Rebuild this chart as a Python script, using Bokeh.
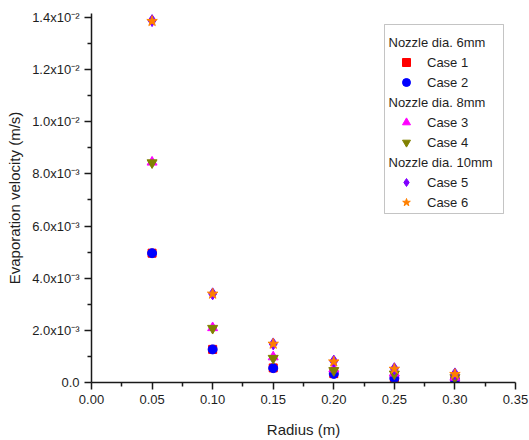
from bokeh.plotting import figure
from bokeh.models import (FixedTicker, PrintfTickFormatter, CustomJSTickFormatter,
                          Legend, LegendItem, BoxAnnotation, Label, Range1d)
from bokeh.embed import file_html
from bokeh.resources import INLINE

# ---- data ----
radius = [0.05, 0.10, 0.15, 0.20, 0.25, 0.30]
case1 = [4.96e-3, 1.27e-3, 0.56e-3, 0.34e-3, 0.17e-3, 0.12e-3]
case2 = [4.96e-3, 1.27e-3, 0.55e-3, 0.33e-3, 0.16e-3, 0.11e-3]
case3 = [8.45e-3, 2.10e-3, 0.98e-3, 0.52e-3, 0.36e-3, 0.20e-3]
case4 = [8.43e-3, 2.08e-3, 0.93e-3, 0.46e-3, 0.33e-3, 0.19e-3]
case5 = [13.88e-3, 3.40e-3, 1.48e-3, 0.82e-3, 0.53e-3, 0.33e-3]
case6 = [13.86e-3, 3.40e-3, 1.48e-3, 0.80e-3, 0.52e-3, 0.32e-3]

series_names = ["Case 1", "Case 2", "Case 3", "Case 4", "Case 5", "Case 6"]
group_names = ["Nozzle dia. 6mm", "Nozzle dia. 8mm", "Nozzle dia. 10mm"]

x_ticks = [0.0, 0.05, 0.10, 0.15, 0.20, 0.25, 0.30, 0.35]
x_minor = [0.025, 0.075, 0.125, 0.175, 0.225, 0.275, 0.325]
y_ticks = [0.0, 0.002, 0.004, 0.006, 0.008, 0.010, 0.012, 0.014]
y_minor = [0.001, 0.003, 0.005, 0.007, 0.009, 0.011, 0.013]

FONT = "Liberation Sans"
TXT = "#1e1e1e"

p = figure(width=529, height=440, output_backend="svg", toolbar_location=None,
           x_range=Range1d(0, 0.35), y_range=Range1d(0, 0.014153),
           min_border_left=91, min_border_right=14, min_border_top=13, min_border_bottom=58)
p.outline_line_color = None
p.xgrid.visible = False
p.ygrid.visible = False
p.background_fill_color = "white"
p.border_fill_color = "white"

for ax in (p.xaxis[0], p.yaxis[0]):
    ax.axis_line_width = 1.5
    ax.axis_line_color = "#1a1a1a"
    ax.major_tick_line_width = 1.5
    ax.minor_tick_line_width = 1.5
    ax.major_tick_line_color = "#1a1a1a"
    ax.minor_tick_line_color = "#1a1a1a"
    ax.major_tick_in = 0
    ax.major_tick_out = 7
    ax.minor_tick_in = 0
    ax.minor_tick_out = 4
    ax.major_label_text_font = FONT
    ax.major_label_text_font_size = "13px"
    ax.major_label_text_color = TXT
    ax.major_label_standoff = 5
    ax.axis_label_text_font = FONT
    ax.axis_label_text_font_size = "15px"
    ax.axis_label_text_font_style = "normal"
    ax.axis_label_text_color = TXT

p.xaxis.ticker = FixedTicker(ticks=x_ticks, minor_ticks=x_minor)
p.yaxis.ticker = FixedTicker(ticks=y_ticks, minor_ticks=y_minor)
p.xaxis.formatter = PrintfTickFormatter(format="%.2f")
p.yaxis.formatter = CustomJSTickFormatter(code="""
if (Math.abs(tick) < 1e-12) { return "0.0"; }
const e = Math.floor(Math.log10(Math.abs(tick)) + 1e-9);
const m = tick / Math.pow(10, e);
const sup = {"0":"\u2070","1":"\u00b9","2":"\u00b2","3":"\u00b3","4":"\u2074",
             "5":"\u2075","6":"\u2076","7":"\u2077","8":"\u2078","9":"\u2079","-":"\u207b"};
return m.toFixed(1) + "x10" + String(e).split("").map(c => sup[c]).join("");
""")
p.xaxis.axis_label = "Radius (m)"
p.yaxis.axis_label = "Evaporation velocity (m/s)"
p.xaxis.axis_label_standoff = 14
p.yaxis.axis_label_standoff = 6

specs = [
    (case1, "square", "#ff0000", 8),
    (case2, "circle", "#0000ff", 9),
    (case3, "triangle", "#ff00ff", 10),
    (case4, "inverted_triangle", "#808000", 10),
    (case5, "diamond", "#8000ff", 12),
    (case6, "star", "#ff8000", 11),
]
renderers = []
for vals, marker, color, size in specs:
    r = p.scatter(radius, vals, marker=marker, size=size, fill_color=color,
                  line_color=color)
    renderers.append(r)

# legend box
box = BoxAnnotation(left=293, right=412, bottom=169, top=358,
                    left_units="screen", right_units="screen",
                    bottom_units="screen", top_units="screen",
                    fill_color="white", fill_alpha=1.0,
                    line_color="#3c3c3c", line_width=1, level="annotation")
p.add_layout(box)

items = [
    LegendItem(label=" ", renderers=[]),
    LegendItem(label=series_names[0], renderers=[renderers[0]]),
    LegendItem(label=series_names[1], renderers=[renderers[1]]),
    LegendItem(label=" ", renderers=[]),
    LegendItem(label=series_names[2], renderers=[renderers[2]]),
    LegendItem(label=series_names[3], renderers=[renderers[3]]),
    LegendItem(label=" ", renderers=[]),
    LegendItem(label=series_names[4], renderers=[renderers[4]]),
    LegendItem(label=series_names[5], renderers=[renderers[5]]),
]
legend = Legend(items=items, location=(305, 170), padding=0, margin=0,
                spacing=0, glyph_width=20, glyph_height=20, label_height=20,
                label_standoff=11, border_line_color=None,
                background_fill_alpha=0.0,
                label_text_font=FONT, label_text_font_size="13px",
                label_text_color=TXT)
p.add_layout(legend)

for name, ypos in zip(group_names, [340.3, 280.3, 220.3]):
    p.add_layout(Label(x=297, y=ypos, x_units="screen", y_units="screen",
                       text=name, text_font=FONT, text_font_size="13px",
                       text_color=TXT, text_baseline="middle", text_align="left"))

open("out.html", "w").write(file_html(p, INLINE))
